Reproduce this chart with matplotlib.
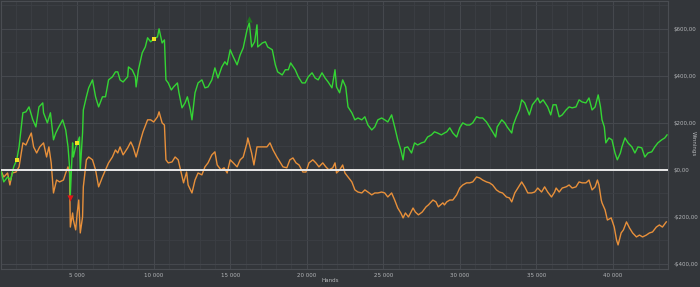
import matplotlib
matplotlib.use("Agg")
import matplotlib.pyplot as plt
from matplotlib.ticker import FixedLocator, MultipleLocator, FuncFormatter

# ---------------- data ----------------
green_hands = [0, 200, 450, 650, 850, 1050, 1200, 1300, 1450, 1650, 1850, 2100, 2300, 2500, 2750, 2800,
               3050, 3250, 3450, 3600, 3800, 4050, 4250, 4400, 4500, 4550, 4700, 4750, 4900, 5000, 5150,
               5200, 5350, 5400, 5600, 5750, 6000, 6200, 6400, 6650, 6850, 7050, 7300, 7500, 7650, 7800,
               8000, 8300, 8350, 8600, 8800, 8850, 9000, 9250, 9450, 9600, 9800, 10000, 10250, 10350,
               10550, 10700, 10800, 10950, 11150, 11300, 11550, 11650, 11850, 12050, 12200, 12400, 12500,
               12700, 12900, 13150, 13350, 13550, 13800, 14000, 14200, 14450, 14650, 14800, 15000, 15200,
               15450, 15650, 15850, 16100, 16250, 16400, 16600, 16750, 16800, 17100, 17300, 17450, 17750,
               17950, 18100, 18400, 18600, 18800, 18950, 19250, 19450, 19700, 19900, 20100, 20350, 20550,
               20750, 21000, 21200, 21400, 21650, 21850, 21950, 22150, 22350, 22550, 22700, 22950, 23150,
               23350, 23600, 23800, 24000, 24250, 24450, 24650, 24900, 25100, 25300, 25550, 25750, 25950,
               26150, 26300, 26400, 26600, 26850, 27050, 27250, 27500, 27700, 27900, 28150, 28350, 28550,
               28800, 29000, 29150, 29350, 29550, 29800, 30000, 30200, 30450, 30650, 30850, 31100, 31300,
               31500, 31750, 31950, 32150, 32350, 32450, 32750, 32950, 33100, 33400, 33500, 33700, 33900,
               34050, 34250, 34350, 34550, 34750, 35100, 35250, 35450, 35750, 35950, 36100, 36300, 36500,
               36700, 36950, 37150, 37350, 37600, 37800, 38000, 38250, 38450, 38650, 38850, 39050, 39200,
               39300, 39450, 39550, 39750, 39950, 40150, 40300, 40500, 40600, 40800, 41000, 41250, 41450,
               41650, 41900, 42100, 42300, 42550, 42750, 42950, 43200, 43400, 43550]
green_winnings = [0, -51, -30, -43, 13, 43, 98, 157, 243, 247, 268, 213, 183, 268, 285, 243,
                  200, 243, 128, 157, 183, 213, 170, 98, 13, -106, 115, 55, 98, 115, 140,
                  0, 157, 255, 311, 349, 383, 311, 268, 311, 311, 383, 396, 417, 417, 383,
                  374, 396, 438, 425, 396, 353, 425, 498, 523, 562, 545, 557, 566, 600,
                  540, 553, 383, 370, 340, 353, 370, 328, 264, 285, 311, 255, 213,
                  328, 370, 383, 349, 353, 383, 434, 391, 438, 460, 447, 511, 481,
                  447, 489, 519, 596, 626, 523, 545, 617, 523, 540, 545, 523, 511,
                  447, 417, 404, 426, 426, 455, 426, 396, 370, 370, 396, 413, 391,
                  383, 413, 391, 374, 349, 426, 353, 328, 383, 353, 268, 243, 213,
                  221, 213, 226, 191, 170, 183, 213, 221, 213, 204, 234, 183, 128,
                  85, 43, 94, 98, 72, 115, 106, 115, 119, 140, 149, 162, 157,
                  149, 157, 162, 179, 157, 140, 179, 200, 191, 191, 200, 226, 221,
                  221, 204, 183, 162, 140, 183, 213, 200, 183, 157, 191, 226, 255,
                  298, 285, 268, 234, 277, 306, 285, 298, 268, 234, 277, 277, 226,
                  234, 255, 268, 264, 268, 298, 289, 285, 306, 255, 268, 319, 268,
                  213, 183, 115, 136, 128, 72, 43, 72, 98, 136, 115, 98, 72,
                  98, 94, 55, 72, 77, 98, 115, 128, 136, 149]

orange_hands = [0, 200, 450, 600, 750, 1000, 1200, 1300, 1450, 1650, 1850, 2000, 2150, 2350, 2550, 2800,
                3000, 3150, 3300, 3450, 3650, 3850, 4100, 4250, 4400, 4500, 4550, 4700, 4750, 4900, 5000,
                5100, 5200, 5350, 5400, 5600, 5750, 6000, 6200, 6400, 6650, 6850, 7050, 7300, 7500, 7650,
                7800, 8000, 8300, 8500, 8650, 8850, 9150, 9300, 9600, 9800, 10000, 10250, 10350, 10550,
                10700, 10800, 10950, 11200, 11400, 11600, 11800, 11950, 12150, 12250, 12500, 12700, 12900,
                13150, 13350, 13550, 13800, 14000, 14150, 14400, 14600, 14800, 15000, 15200, 15450, 15650,
                15850, 16100, 16150, 16400, 16550, 16750, 16950, 17150, 17400, 17600, 17800, 18050, 18250,
                18450, 18700, 18900, 19100, 19300, 19500, 19750, 19950, 20150, 20400, 20600, 20800, 21050,
                21250, 21450, 21700, 21850, 21950, 22150, 22350, 22500, 22700, 22950, 23150, 23350, 23600,
                23800, 24000, 24250, 24450, 24650, 24900, 25100, 25300, 25550, 25750, 25950, 26150, 26300,
                26450, 26650, 26950, 27100, 27300, 27550, 27800, 27950, 28250, 28450, 28600, 28900, 29000,
                29150, 29350, 29550, 29800, 30000, 30200, 30450, 30650, 30850, 31100, 31300, 31500, 31750,
                31950, 32150, 32400, 32600, 32800, 33050, 33250, 33400, 33600, 33800, 34050, 34250, 34450,
                34700, 34900, 35100, 35350, 35550, 35750, 36000, 36200, 36300, 36500, 36700, 36950, 37150,
                37350, 37600, 37800, 38000, 38250, 38450, 38650, 38850, 39000, 39100, 39250, 39300, 39500,
                39650, 39900, 40100, 40250, 40350, 40550, 40700, 40900, 41100, 41300, 41550, 41750, 41950,
                42200, 42400, 42600, 42850, 43050, 43250, 43500]
orange_winnings = [0, -30, -13, -64, -13, -9, 13, 55, 115, 106, 136, 157, 98, 72, 98, 115,
                   55, 98, 30, -98, -43, -51, -43, -13, 13, -13, -243, -183, -213, -255, -183,
                   -128, -268, -200, -72, 43, 55, 43, 0, -72, -30, 0, 30, 55, 85, 72,
                   98, 64, 94, 119, 98, 55, 128, 162, 213, 213, 204, 226, 247, 200,
                   191, 43, 30, 34, 55, 43, -13, -55, -9, -64, -98, -43, -13,
                   -21, 13, 30, 64, 77, 21, 0, 9, -13, 43, 30, 13, 43,
                   55, 115, 136, 72, 21, 98, 98, 98, 98, 115, 85, 55, 34,
                   13, 9, 43, 51, 30, 21, -9, -9, 30, 43, 30, 13, 30,
                   13, 0, 9, 30, -13, 0, 21, -13, -30, -51, -85, -94, -98,
                   -85, -94, -106, -98, -98, -94, -98, -115, -98, -128, -162, -183, -204,
                   -183, -200, -162, -179, -191, -179, -157, -149, -128, -136, -157, -140, -149,
                   -136, -128, -128, -106, -77, -64, -55, -55, -51, -30, -34, -43, -51,
                   -55, -64, -85, -94, -98, -115, -119, -136, -98, -77, -51, -72, -98,
                   -98, -94, -77, -94, -72, -94, -115, -94, -77, -94, -77, -72, -64,
                   -77, -72, -51, -55, -55, -43, -85, -72, -43, -64, -128, -140, -170,
                   -213, -204, -243, -298, -319, -268, -255, -221, -247, -268, -285, -277, -285,
                   -277, -268, -264, -243, -234, -243, -221]

yellow_hands = [1050, 5000, 10000]
yellow_values = [43, 115, 557]
peak_hand = [16250]
peak_value = [640]
drop_hand = [4550]
drop_value = [-118]

y_ticks = [-400, -200, 0, 200, 400, 600]
x_ticks = [5000, 10000, 15000, 20000, 25000, 30000, 35000, 40000]

# ---------------- style ----------------
BG = "#33363a"
GRID_MAJOR = "#45484d"
GRID_MINOR = "#3c3f44"
TXT = "#b4b6b9"
GREEN = "#34d534"
ORANGE = "#e8903a"

fig = plt.figure(figsize=(7.0, 2.87), dpi=100, facecolor=BG)
ax = fig.add_axes([0.001, 0.063, 0.953, 0.934], facecolor=BG)

ax.plot(orange_hands, orange_winnings, color=ORANGE, lw=1.0, zorder=3)
ax.plot(green_hands, green_winnings, color=GREEN, lw=1.0, zorder=4)
ax.axhline(0, color="#e8e8e8", lw=1.4, zorder=5)

ax.scatter(yellow_hands, yellow_values, marker="s", s=8, color="#f0e020", zorder=6, linewidths=0)
ax.scatter(peak_hand, peak_value, marker="^", s=20, color="#1f7a1f", zorder=6, linewidths=0)
ax.scatter(drop_hand, drop_value, marker="v", s=20, color="#e01818", zorder=6, linewidths=0)

ax.set_xlim(0, 43600)
ax.set_ylim(-421, 719)

ax.xaxis.set_major_locator(FixedLocator(x_ticks))
ax.xaxis.set_minor_locator(MultipleLocator(1000))
ax.yaxis.set_major_locator(FixedLocator(y_ticks))
ax.yaxis.set_minor_locator(MultipleLocator(100))

def money(v, pos=None):
    v = int(round(v))
    return ("-$" if v < 0 else "$") + f"{abs(v)},00"

def hands_fmt(v, pos=None):
    return f"{int(v):,}".replace(",", " ")

ax.yaxis.set_major_formatter(FuncFormatter(money))
ax.xaxis.set_major_formatter(FuncFormatter(hands_fmt))
ax.yaxis.tick_right()

ax.grid(True, which="major", color=GRID_MAJOR, lw=0.8, zorder=0)
ax.grid(True, which="minor", color=GRID_MINOR, lw=0.6, zorder=0)
ax.set_axisbelow(True)

ax.tick_params(axis="both", which="both", length=0, colors=TXT, labelsize=4.0)
ax.tick_params(axis="x", pad=3)
ax.tick_params(axis="y", pad=4)

for s in ax.spines.values():
    s.set_color("#4a4d52")
    s.set_linewidth(0.8)

fig.text(0.472, 0.013, "Hands", color=TXT, fontsize=4.0, ha="center", va="bottom")
fig.text(0.990, 0.50, "Winnings", color=TXT, fontsize=4.0, ha="center", va="center", rotation=270)

fig.savefig("out.png", dpi=100, facecolor=BG)
